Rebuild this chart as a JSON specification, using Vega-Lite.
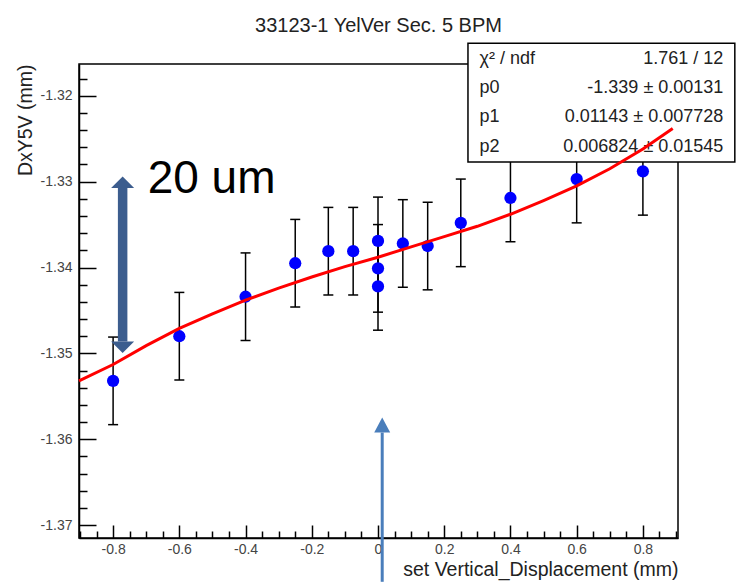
{
  "$schema": "https://vega.github.io/schema/vega-lite/v6.json",
  "width": 599,
  "height": 474,
  "autosize": {"type": "none"},
  "padding": {"left": 79, "top": 64, "right": 58, "bottom": 44},
  "background": "white",
  "config": {"view": {"stroke": "#000", "strokeWidth": 1.5}, "font": "Liberation Sans"},
  "title": {"text": "33123-1 YelVer Sec. 5 BPM", "frame": "group", "anchor": "middle", "baseline": "alphabetic", "offset": -10, "fontSize": 20, "fontWeight": "normal", "color": "#222", "font": "Liberation Sans"},
  "datasets": {
    "pts": [
      {"x": -0.8, "y": -1.3532, "lo": -1.3583, "hi": -1.3481},
      {"x": -0.6, "y": -1.3480, "lo": -1.3531, "hi": -1.3429},
      {"x": -0.4, "y": -1.3434, "lo": -1.3485, "hi": -1.3383},
      {"x": -0.25, "y": -1.3395, "lo": -1.3446, "hi": -1.3344},
      {"x": -0.15, "y": -1.3381, "lo": -1.3432, "hi": -1.3330},
      {"x": -0.075, "y": -1.3381, "lo": -1.3432, "hi": -1.3330},
      {"x": 0, "y": -1.3369, "lo": -1.3420, "hi": -1.3318},
      {"x": 0, "y": -1.3401, "lo": -1.3452, "hi": -1.3350},
      {"x": 0, "y": -1.3422, "lo": -1.3473, "hi": -1.3371},
      {"x": 0.075, "y": -1.3372, "lo": -1.3423, "hi": -1.3321},
      {"x": 0.15, "y": -1.3375, "lo": -1.3426, "hi": -1.3324},
      {"x": 0.25, "y": -1.3348, "lo": -1.3399, "hi": -1.3297},
      {"x": 0.4, "y": -1.3319, "lo": -1.3370, "hi": -1.3268},
      {"x": 0.6, "y": -1.3297, "lo": -1.3348, "hi": -1.3246},
      {"x": 0.8, "y": -1.3288, "lo": -1.3339, "hi": -1.3237}
    ],
    "curve": [
      {"cx": -0.903, "cy": -1.3532},
      {"cx": -0.8, "cy": -1.3513},
      {"cx": -0.7, "cy": -1.3491},
      {"cx": -0.6, "cy": -1.3471},
      {"cx": -0.5, "cy": -1.3454},
      {"cx": -0.4, "cy": -1.3438},
      {"cx": -0.3, "cy": -1.3424},
      {"cx": -0.2, "cy": -1.3411},
      {"cx": -0.1, "cy": -1.3399},
      {"cx": 0, "cy": -1.3388},
      {"cx": 0.1, "cy": -1.3376},
      {"cx": 0.2, "cy": -1.3364},
      {"cx": 0.3, "cy": -1.3352},
      {"cx": 0.4, "cy": -1.3338},
      {"cx": 0.5, "cy": -1.3322},
      {"cx": 0.6, "cy": -1.3305},
      {"cx": 0.7, "cy": -1.3285},
      {"cx": 0.8, "cy": -1.3262},
      {"cx": 0.89, "cy": -1.3238}
    ]
  },
  "data": {"name": "pts"},
  "layer": [
    {
      "mark": {"type": "rule", "color": "#000", "strokeWidth": 1.5},
      "encoding": {
        "x": {"field": "x", "type": "quantitative", "scale": {"domain": [-0.903, 0.906], "nice": false, "zero": false},
          "axis": {
            "values": [-0.9,-0.85,-0.8,-0.75,-0.7,-0.65,-0.6,-0.55,-0.5,-0.45,-0.4,-0.35,-0.3,-0.25,-0.2,-0.15,-0.1,-0.05,0,0.05,0.1,0.15,0.2,0.25,0.3,0.35,0.4,0.45,0.5,0.55,0.6,0.65,0.7,0.75,0.8,0.85,0.9],
            "tickCount": 200,
            "labelExpr": "abs(datum.value*5 - round(datum.value*5)) < 0.001 ? (abs(datum.value) < 0.001 ? '0' : (datum.value < 0 ? '-' : '') + format(abs(datum.value), '.1f')) : ''",
            "tickSize": {"condition": {"test": "abs(datum.value*5 - round(datum.value*5)) < 0.001", "value": -13}, "value": -7},
            "labelPadding": 17,
            "tickColor": "#000", "tickWidth": 1.5, "domainColor": "#000", "domainWidth": 1.5,
            "labelFont": "Liberation Sans", "labelFontSize": 14, "labelColor": "#444",
            "labelFlush": false, "labelOverlap": false, "labelBound": false, "grid": false,
            "title": "set Vertical_Displacement (mm)", "titleAnchor": "end", "titleFont": "Liberation Sans", "titleFontSize": 19.5, "titleFontWeight": "normal", "titleColor": "#222", "titlePadding": -2
          }},
        "y": {"field": "lo", "type": "quantitative", "scale": {"domain": [-1.3715, -1.3163], "nice": false, "zero": false},
          "axis": {
            "values": [-1.37,-1.368,-1.366,-1.364,-1.362,-1.36,-1.358,-1.356,-1.354,-1.352,-1.35,-1.348,-1.346,-1.344,-1.342,-1.34,-1.338,-1.336,-1.334,-1.332,-1.33,-1.328,-1.326,-1.324,-1.322,-1.32,-1.318],
            "tickCount": 200,
            "labelExpr": "abs(datum.value*100 - round(datum.value*100)) < 0.001 ? '-' + format(abs(datum.value), '.2f') : ''",
            "tickSize": {"condition": {"test": "abs(datum.value*100 - round(datum.value*100)) < 0.001", "value": -17}, "value": -8},
            "labelPadding": 24,
            "tickColor": "#000", "tickWidth": 1.5, "domainColor": "#000", "domainWidth": 1.5,
            "labelFont": "Liberation Sans", "labelFontSize": 14, "labelColor": "#444",
            "labelFlush": false, "labelOverlap": false, "labelBound": false, "grid": false,
            "title": "DxY5V (mm)", "titleAnchor": "end", "titleFont": "Liberation Sans", "titleFontSize": 19.5, "titleFontWeight": "normal", "titleColor": "#222", "titlePadding": 5
          }},
        "y2": {"field": "hi"}
      }
    },
    {
      "mark": {"type": "tick", "orient": "horizontal", "size": 10, "thickness": 1.5, "color": "#000", "opacity": 1},
      "encoding": {
        "x": {"field": "x", "type": "quantitative"},
        "y": {"field": "lo", "type": "quantitative"}
      }
    },
    {
      "mark": {"type": "tick", "orient": "horizontal", "size": 10, "thickness": 1.5, "color": "#000", "opacity": 1},
      "encoding": {
        "x": {"field": "x", "type": "quantitative"},
        "y": {"field": "hi", "type": "quantitative"}
      }
    },
    {
      "mark": {"type": "point", "shape": "circle", "filled": true, "color": "#0000ff", "size": 150, "opacity": 1},
      "encoding": {
        "x": {"field": "x", "type": "quantitative"},
        "y": {"field": "y", "type": "quantitative"}
      }
    },
    {
      "data": {"values": [{}]},
      "mark": {"type": "rect", "fill": "white", "stroke": "#000", "strokeWidth": 1.5},
      "encoding": {
        "x": {"datum": 0.2717, "type": "quantitative"},
        "x2": {"datum": 1.0776},
        "y": {"datum": -1.31387, "type": "quantitative"},
        "y2": {"datum": -1.32771}
      }
    },
    {
      "data": {"values": [{}]},
      "mark": {"type": "text", "text": ["χ² / ndf", "p0", "p1", "p2"], "align": "left", "baseline": "alphabetic", "lineHeight": 29.3, "fontSize": 18, "font": "Liberation Sans", "color": "#222"},
      "encoding": {
        "x": {"datum": 0.3064, "type": "quantitative"},
        "y": {"datum": -1.31626, "type": "quantitative"}
      }
    },
    {
      "data": {"values": [{}]},
      "mark": {"type": "text", "text": ["1.761 / 12", "-1.339 ± 0.00131", "0.01143 ± 0.007728", "0.006824 ± 0.01545"], "align": "right", "baseline": "alphabetic", "lineHeight": 29.3, "fontSize": 18, "font": "Liberation Sans", "color": "#222"},
      "encoding": {
        "x": {"datum": 1.0429, "type": "quantitative"},
        "y": {"datum": -1.31626, "type": "quantitative"}
      }
    },
    {
      "data": {"name": "curve"},
      "mark": {"type": "line", "color": "#ff0000", "strokeWidth": 3},
      "encoding": {
        "x": {"field": "cx", "type": "quantitative"},
        "y": {"field": "cy", "type": "quantitative"}
      }
    },
    {
      "data": {"values": [{}]},
      "mark": {"type": "rule", "color": "#3c5d8e", "strokeWidth": 9.5},
      "encoding": {
        "x": {"datum": -0.7712, "type": "quantitative"},
        "y": {"datum": -1.33073, "type": "quantitative"},
        "y2": {"datum": -1.34863}
      }
    },
    {
      "data": {"values": [{}]},
      "mark": {"type": "point", "shape": "M-1,0L0,-1L1,0Z", "filled": true, "color": "#3c5d8e", "size": 529, "opacity": 1},
      "encoding": {
        "x": {"datum": -0.7712, "type": "quantitative"},
        "y": {"datum": -1.33073, "type": "quantitative"}
      }
    },
    {
      "data": {"values": [{}]},
      "mark": {"type": "point", "shape": "M-1,0L0,1L1,0Z", "filled": true, "color": "#3c5d8e", "size": 529, "opacity": 1},
      "encoding": {
        "x": {"datum": -0.7712, "type": "quantitative"},
        "y": {"datum": -1.34863, "type": "quantitative"}
      }
    },
    {
      "data": {"values": [{}]},
      "mark": {"type": "text", "text": "20 um", "align": "left", "baseline": "alphabetic", "fontSize": 46, "font": "Liberation Sans", "color": "#000"},
      "encoding": {
        "x": {"datum": -0.6957, "type": "quantitative"},
        "y": {"datum": -1.33131, "type": "quantitative"}
      }
    },
    {
      "data": {"values": [{}]},
      "mark": {"type": "rule", "color": "#4a7ebb", "strokeWidth": 3},
      "encoding": {
        "x": {"datum": 0.0127, "type": "quantitative"},
        "y": {"datum": -1.35922, "type": "quantitative"},
        "y2": {"datum": -1.3766}
      }
    },
    {
      "data": {"values": [{}]},
      "mark": {"type": "point", "shape": "M-1,0L0,-1.875L1,0Z", "filled": true, "color": "#4a7ebb", "size": 256, "opacity": 1},
      "encoding": {
        "x": {"datum": 0.0127, "type": "quantitative"},
        "y": {"datum": -1.35922, "type": "quantitative"}
      }
    }
  ]
}
